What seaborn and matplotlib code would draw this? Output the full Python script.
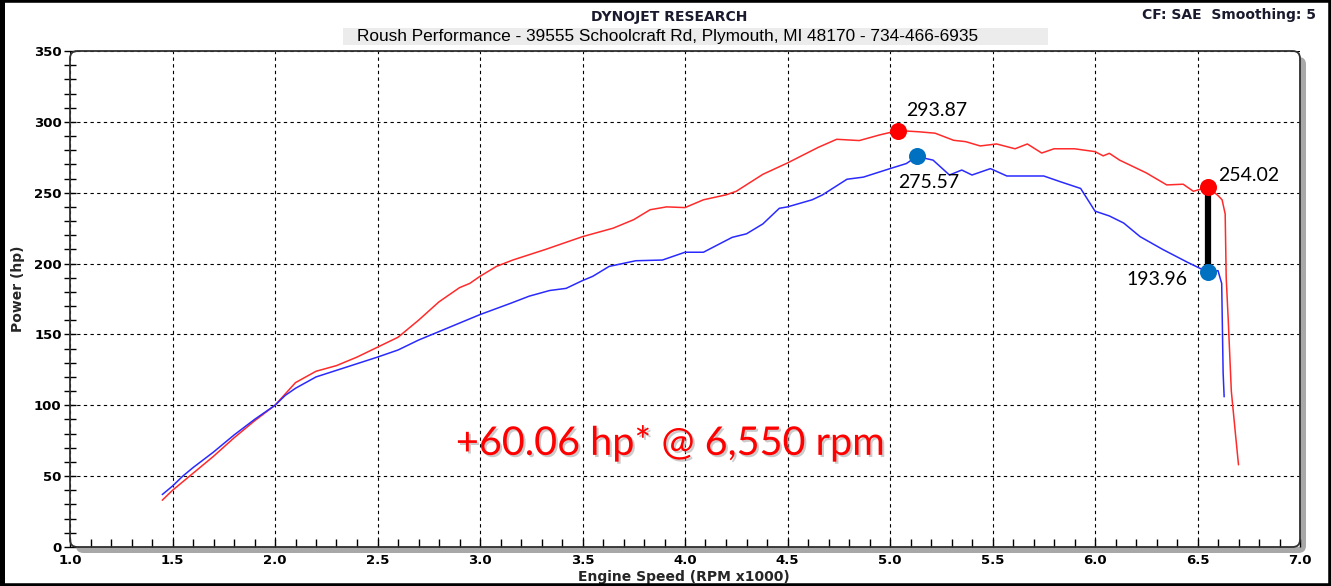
import pandas as pd
import seaborn as sns
import matplotlib
matplotlib.use("Agg")
import matplotlib.pyplot as plt
from matplotlib.patches import FancyBboxPatch, Rectangle
import matplotlib.patheffects as pe

# Dyno pulls (engine speed in RPM x1000, power in hp)
rpm_after = [1.45, 1.50, 1.55, 1.60, 1.70, 1.80, 1.90, 2.00, 2.05, 2.10, 2.15, 2.20,
             2.30, 2.40, 2.50, 2.60, 2.70, 2.80, 2.90, 2.95, 3.00, 3.08, 3.16, 3.32,
             3.50, 3.65, 3.75, 3.83, 3.91, 4.00, 4.09, 4.20, 4.25, 4.38, 4.50, 4.56,
             4.65, 4.74, 4.85, 4.95, 5.04, 5.14, 5.22, 5.31, 5.37, 5.44, 5.52, 5.61,
             5.67, 5.74, 5.80, 5.90, 6.00, 6.04, 6.07, 6.12, 6.25, 6.35, 6.43, 6.48,
             6.55, 6.60, 6.62, 6.635, 6.64, 6.65, 6.665, 6.685, 6.70]
hp_after = [33, 40, 46, 52, 64, 77, 89, 100, 108, 116, 120, 124,
            128, 134, 141, 148, 160, 173, 183, 186, 191, 198, 202.5, 210,
            219, 225, 231, 238, 240, 239.5, 245, 248.5, 251, 263, 271, 275.4,
            282, 287.7, 286.8, 290.8, 293.87, 293, 292, 287, 286, 283, 284.4, 281,
            284.4, 278, 281, 281, 279, 276, 277.8, 273, 264, 255.5, 256, 251,
            254.02, 248, 245, 235, 190, 160, 110, 80, 58]

rpm_before = [1.45, 1.50, 1.55, 1.60, 1.70, 1.80, 1.90, 2.00, 2.05, 2.10, 2.15, 2.20,
              2.35, 2.50, 2.60, 2.70, 2.80, 2.90, 3.00, 3.15, 3.24, 3.34, 3.42, 3.50,
              3.55, 3.63, 3.76, 3.89, 4.00, 4.09, 4.23, 4.30, 4.38, 4.46, 4.50, 4.62,
              4.67, 4.79, 4.87, 5.00, 5.08, 5.13, 5.21, 5.29, 5.35, 5.40, 5.49, 5.57,
              5.75, 5.83, 5.93, 6.00, 6.07, 6.14, 6.22, 6.33, 6.45, 6.55, 6.60, 6.618,
              6.622, 6.625, 6.63]
hp_before = [37, 43, 50, 56, 67, 79, 90, 100, 107, 112, 116, 120,
             127, 134, 139, 146, 152, 158, 164, 172, 177, 181, 182.5, 188,
             191, 198, 202, 202.5, 208, 208, 218.5, 221, 228, 239, 240, 245,
             248.4, 259.5, 261, 267, 270.6, 275.57, 273, 262.5, 266, 262.5, 267, 261.8,
             261.8, 257.8, 253, 237, 233.6, 228.6, 219, 210, 201, 193.96, 195, 186,
             150, 123, 106]

# Highlighted points
peak_rpm_after, peak_hp_after = 5.04, 293.87
peak_rpm_before, peak_hp_before = 5.13, 275.57
gain_rpm = 6.55
gain_hp_after, gain_hp_before = 254.02, 193.96

xticks = [1.0, 1.5, 2.0, 2.5, 3.0, 3.5, 4.0, 4.5, 5.0, 5.5, 6.0, 6.5, 7.0]
xtick_labels = ["1.0", "1.5", "2.0", "2.5", "3.0", "3.5", "4.0", "4.5", "5.0", "5.5", "6.0", "6.5", "7.0"]
yticks = [0, 50, 100, 150, 200, 250, 300, 350]
ytick_labels = ["0", "50", "100", "150", "200", "250", "300", "350"]

df = pd.concat([
    pd.DataFrame({"rpm": rpm_after, "hp": hp_after, "run": "after"}),
    pd.DataFrame({"rpm": rpm_before, "hp": hp_before, "run": "before"}),
])

sns.set_style("white")
plt.rcParams["font.family"] = ["DejaVu Sans"]

W, H = 1331, 586
fig = plt.figure(figsize=(W / 100, H / 100), dpi=100)
ax = fig.add_axes([70 / W, 39 / H, 1230 / W, 496 / H])

sns.lineplot(data=df, x="rpm", y="hp", hue="run", estimator=None, sort=False,
             palette={"after": "#ff2a2a", "before": "#2a2aff"}, lw=1.1,
             legend=False, ax=ax)

ax.set_xlim(1, 7)
ax.set_ylim(0, 350)
ax.set_xticks(xticks)
ax.set_xticklabels(xtick_labels, fontweight="bold")
ax.set_yticks(yticks)
ax.set_yticklabels(ytick_labels, fontweight="bold")
ax.set_xticks([v / 10 for v in range(10, 71)], minor=True)
ax.set_yticks(list(range(0, 351, 10)), minor=True)
ax.tick_params(axis="x", which="both", direction="in", length=6, width=1,
               bottom=True, labelsize=9.5, pad=5, colors="black")
ax.tick_params(axis="y", which="both", direction="inout", length=8, width=1,
               left=True, labelsize=9.5, pad=2, colors="black")
ax.grid(True, which="major", color="black", ls=(0, (3, 3)), lw=0.8)
for s in ax.spines.values():
    s.set_visible(False)

ax.set_xlabel("Engine Speed (RPM x1000)", fontweight="bold", fontsize=10)
ax.set_ylabel("Power (hp)", fontweight="bold", fontsize=10)
ax.xaxis.set_label_coords(0.499, -0.06)
ax.xaxis.label.set_va("center")
ax.yaxis.set_label_coords(-0.042, 0.52)
ax.yaxis.label.set_va("center")

# rounded frame with drop shadow
ma = 1230 / 496
shadow = FancyBboxPatch((6 / 1230, -6 / 496), 1, 1, transform=ax.transAxes,
                        boxstyle="round,pad=0,rounding_size=0.006", mutation_aspect=ma,
                        fc="#a8a8a8", ec="none", zorder=-1)
fig.patches.append(shadow)
shadow.set_transform(ax.transAxes)
frame = FancyBboxPatch((0, 0), 1, 1, transform=ax.transAxes,
                       boxstyle="round,pad=0,rounding_size=0.006", mutation_aspect=ma,
                       fc="none", ec="#303030", lw=1.3, clip_on=False, zorder=6)
ax.add_patch(frame)

# markers and gain bar
ax.plot([gain_rpm, gain_rpm], [gain_hp_before, gain_hp_after], color="black", lw=4.5,
        zorder=4, solid_capstyle="butt")
ax.scatter([peak_rpm_after, gain_rpm], [peak_hp_after, gain_hp_after], s=150,
           color="#ff0000", zorder=5, linewidths=0)
ax.scatter([peak_rpm_before, gain_rpm], [peak_hp_before, gain_hp_before], s=150,
           color="#0070c0", zorder=5, linewidths=0)

lab = dict(fontsize=14, family="Lato", color="black", va="center")
ax.text(5.078, 307.7, f"{peak_hp_after:.2f}", ha="left", **lab)
ax.text(5.039, 256.9, f"{peak_hp_before:.2f}", ha="left", **lab)
ax.text(6.60, 262, f"{gain_hp_after:.2f}", ha="left", **lab)
ax.text(6.449, 189, f"{gain_hp_before:.2f}", ha="right", **lab)

gain = gain_hp_after - gain_hp_before
ax.text(3.93, 65, f"+{gain:.2f} hp* @ {gain_rpm * 1000:,.0f} rpm", ha="center",
        va="baseline", fontsize=28.5, family="Lato", color="#ff0000",
        path_effects=[pe.withSimplePatchShadow(offset=(1.5, -1.5), shadow_rgbFace="#999999",
                                               alpha=0.5)])

# header
fig.text(669 / W, 1 - 17 / H, "DYNOJET RESEARCH", ha="center", va="center",
         fontsize=10, fontweight="bold", color="#1a1a2e")
fig.text(1316 / W, 1 - 15 / H, "CF: SAE  Smoothing: 5", ha="right", va="center",
         fontsize=10, fontweight="bold", color="#1a1a2e")
fig.patches.append(Rectangle((343 / W, 1 - 45 / H), 705 / W, 17 / H,
                             transform=fig.transFigure, fc="#ececec", ec="none"))
fig.text(668 / W, 1 - 37 / H,
         "Roush Performance - 39555 Schoolcraft Rd, Plymouth, MI 48170 - 734-466-6935",
         ha="center", va="center", fontsize=12.4, family="Liberation Sans", color="black")

# outer border
fig.patches.append(Rectangle((0, 0), 1, 1, transform=fig.transFigure, fill=False,
                             ec="black", lw=4))
fig.patches.append(Rectangle((0, 0), 5 / W, 1, transform=fig.transFigure,
                             fc="black", ec="none"))

fig.savefig("out.png", dpi=100)
